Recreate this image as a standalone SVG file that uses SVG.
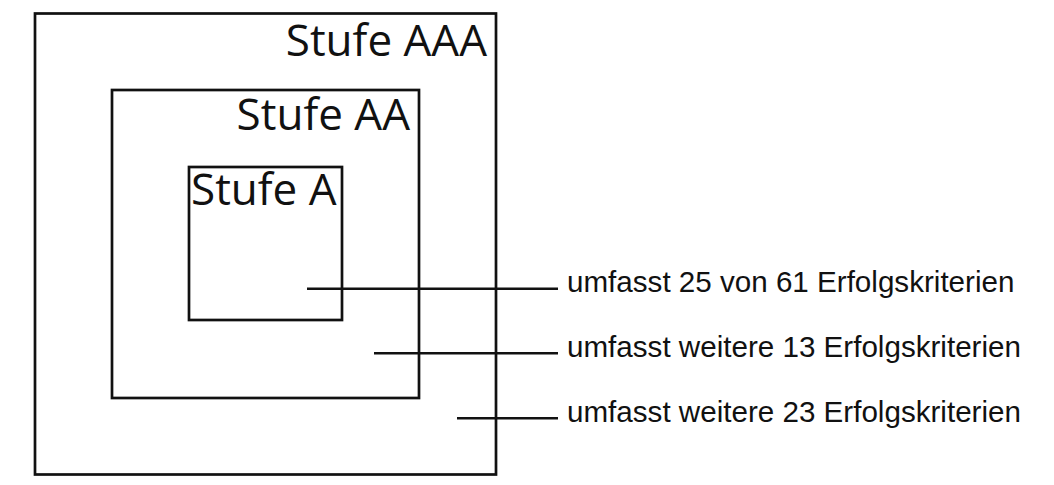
<svg xmlns="http://www.w3.org/2000/svg" width="1054" height="485" viewBox="0 0 1054 485">
<style>
.box{fill:none;stroke:#111;stroke-width:2.7}
.lead{stroke:#111;stroke-width:2.5;fill:none}
.lvl{font-family:"Open Sans","Noto Sans",sans-serif;font-size:44px;fill:#111}
.lbl{font-family:"Liberation Sans",Arial,sans-serif;font-size:29.6px;fill:#111}
</style>
<rect width="1054" height="485" fill="#fff"/>
<g id="stufe-aaa">
<rect class="box" x="35" y="13.5" width="461" height="461"/>
<text class="lvl" x="487" y="56" text-anchor="end">Stufe AAA</text>
</g>
<g id="stufe-aa">
<rect class="box" x="112" y="90" width="307" height="308"/>
<text class="lvl" x="410" y="130" text-anchor="end">Stufe AA</text>
</g>
<g id="stufe-a">
<rect class="box" x="189" y="167" width="153" height="153"/>
<text class="lvl" x="191" y="205">Stufe A</text>
</g>
<g id="connectors">
<line class="lead" x1="307" y1="288.7" x2="558" y2="288.7"/>
<line class="lead" x1="374" y1="353.3" x2="558" y2="353.3"/>
<line class="lead" x1="457" y1="418.3" x2="558" y2="418.3"/>
</g>
<g id="label-a">
<text class="lbl" x="567" y="291.7">umfasst 25 von 61 Erfolgskriterien</text>
</g>
<g id="label-aa">
<text class="lbl" x="567" y="356.7">umfasst weitere 13 Erfolgskriterien</text>
</g>
<g id="label-aaa">
<text class="lbl" x="567" y="421.5">umfasst weitere 23 Erfolgskriterien</text>
</g>
</svg>
